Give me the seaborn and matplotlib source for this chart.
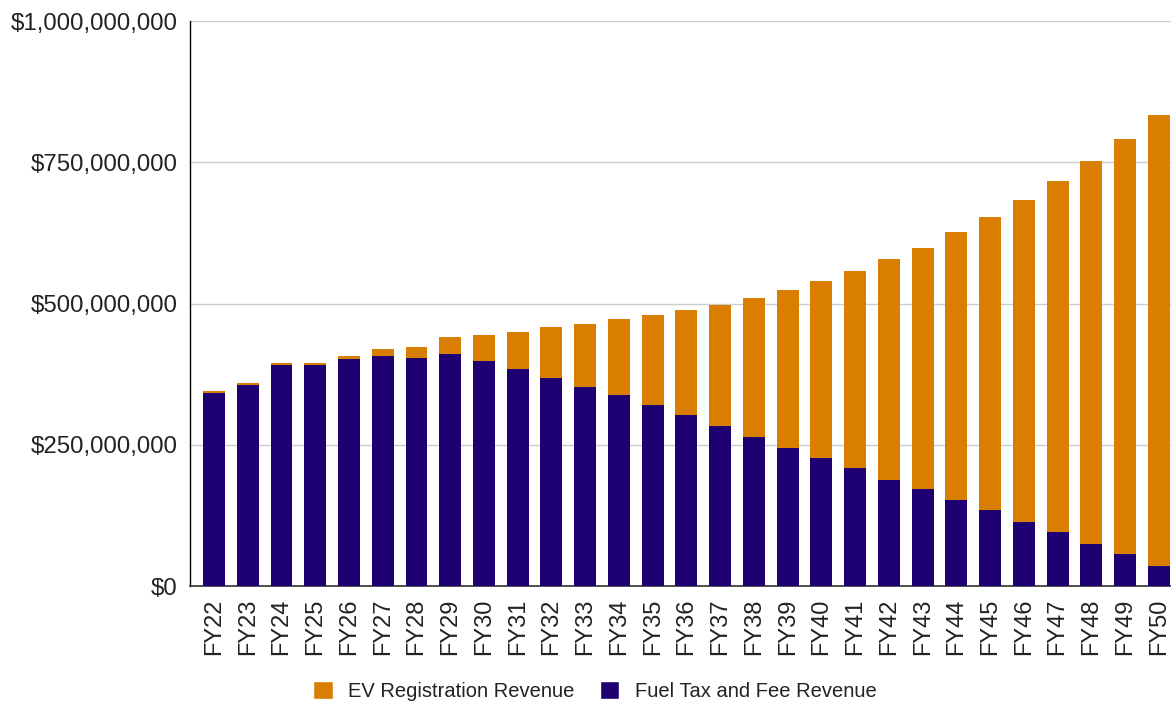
import pandas as pd
import matplotlib.pyplot as plt
import seaborn as sns
from matplotlib.patches import Patch
from matplotlib.ticker import FuncFormatter

years = ['FY22', 'FY23', 'FY24', 'FY25', 'FY26', 'FY27', 'FY28', 'FY29', 'FY30', 'FY31',
         'FY32', 'FY33', 'FY34', 'FY35', 'FY36', 'FY37', 'FY38', 'FY39', 'FY40', 'FY41',
         'FY42', 'FY43', 'FY44', 'FY45', 'FY46', 'FY47', 'FY48', 'FY49', 'FY50']
# millions of dollars
fuel = [341, 356, 392, 392, 401, 407, 404, 411, 398, 384,
        368, 353, 338, 320, 303, 284, 263, 245, 227, 209,
        188, 171, 153, 134, 113, 95, 74, 57, 35]
ev = [4, 3, 3, 3, 7, 13, 19, 30, 46, 66,
      90, 111, 135, 159, 185, 213, 246, 279, 312, 348,
      390, 428, 473, 520, 571, 622, 678, 735, 799]
yticks = [0, 250e6, 500e6, 750e6, 1000e6]

df = pd.DataFrame({'year': years, 'fuel': [v * 1e6 for v in fuel], 'ev': [v * 1e6 for v in ev]})
df['total'] = df['fuel'] + df['ev']

sns.set_style('white')
plt.rcParams['font.family'] = ['Liberation Sans', 'DejaVu Sans']

orange = '#d97e00'
purple = '#1f0073'
txt = '#222222'

fig = plt.figure(figsize=(11.71, 7.03), dpi=100)
ax = fig.add_axes([0.1623, 0.1664, 0.8377, 0.8037])

sns.barplot(data=df, x='year', y='total', color=orange, width=0.65, saturation=1,
            linewidth=0, edgecolor='none', ax=ax, zorder=2)
sns.barplot(data=df, x='year', y='fuel', color=purple, width=0.65, saturation=1,
            linewidth=0, edgecolor='none', ax=ax, zorder=3)

ax.set_xlim(-0.71, 28.36)
ax.set_ylim(0, 1e9)
ax.set_yticks(yticks)
ax.yaxis.set_major_formatter(FuncFormatter(lambda v, p: f'${v:,.0f}'))
ax.grid(axis='y', color='#cccccc', linewidth=1, zorder=0)
ax.set_axisbelow(True)
ax.set_xlabel('')
ax.set_ylabel('')
ax.tick_params(axis='y', length=0, pad=9, labelsize=17.3, labelcolor=txt)
ax.tick_params(axis='x', length=0, pad=9, labelsize=17, labelcolor=txt, labelrotation=90)

for s in ['top', 'right']:
    ax.spines[s].set_visible(False)
ax.spines['left'].set_color('black')
ax.spines['left'].set_linewidth(1)
ax.spines['bottom'].set_color('#333333')
ax.spines['bottom'].set_linewidth(1.2)

handles = [Patch(facecolor=orange, label='EV Registration Revenue'),
           Patch(facecolor=purple, label='Fuel Tax and Fee Revenue')]
fig.legend(handles=handles, loc='center', bbox_to_anchor=(0.508, 0.017), ncol=2, frameon=False,
           fontsize=14.5, handlelength=0.95, handleheight=0.95, handletextpad=0.75,
           columnspacing=1.3, labelcolor=txt)

fig.savefig('out.png', dpi=100)
